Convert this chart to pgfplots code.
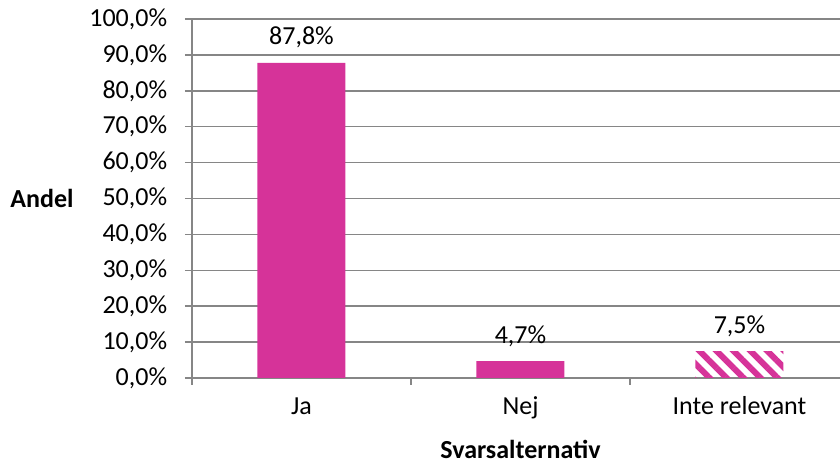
\documentclass[border=0pt]{standalone}
\usepackage{fontspec}
\setmainfont{Carlito}
\usepackage{pgfplots}
\pgfplotsset{compat=1.18}
\usetikzlibrary{patterns.meta}

\definecolor{barc}{RGB}{214,51,153}
\definecolor{gridc}{RGB}{134,134,134}

\begin{document}
\fontsize{26bp}{30bp}\selectfont
\begin{tikzpicture}[x=1bp,y=1bp]
\useasboundingbox (-192,-88) rectangle (648,378);
\begin{axis}[
    at={(0,0)}, anchor=south west,
    scale only axis,
    width=648bp, height=359bp,
    xmin=-0.5, xmax=2.459,
    ymin=0, ymax=100,
    ybar, bar shift=0pt, bar width=88bp,
    axis x line*=bottom, axis y line*=left,
    axis line style={-, gridc, line width=1.5bp},
    ymajorgrids,
    major grid style={gridc, line width=1.5bp},
    ytick={0,10,...,100},
    yticklabel={\pgfmathprintnumber[fixed,fixed zerofill,precision=1,use comma,assume math mode=true]{\tick}\%},
    tick style={gridc, line width=1.5bp},
    tick align=outside,
    major tick length=7bp,
    xtick={-0.5,0.5,1.5},
    xticklabels={},
    extra x ticks={0,1,2},
    extra x tick labels={Ja,Nej,Inte relevant},
    extra x tick style={major tick length=0pt, tick style={draw=none}},
    xticklabel style={anchor=base, yshift=-37bp},
    yticklabel style={xshift=-9bp},
    xlabel={\bfseries Svarsalternativ},
    ylabel={\bfseries Andel},
    every axis x label/.style={at={(axis cs:1,0)}, anchor=base, yshift=-81bp},
    every axis y label/.style={at={(axis description cs:0,0.5)}, anchor=center, xshift=-150bp},
    nodes near coords,
    point meta=explicit symbolic,
    every node near coord/.append style={anchor=base, yshift=18bp, black},
]
\addplot[fill=barc, draw=none] coordinates {(0,87.8) [87,8\%] (1,4.7) [4,7\%]};
\addplot[fill=white, draw=none, pattern={Lines[angle=-45, distance=12bp, line width=6bp]}, pattern color=barc] coordinates {(2,7.5) [7,5\%]};
\end{axis}
\end{tikzpicture}
\end{document}
